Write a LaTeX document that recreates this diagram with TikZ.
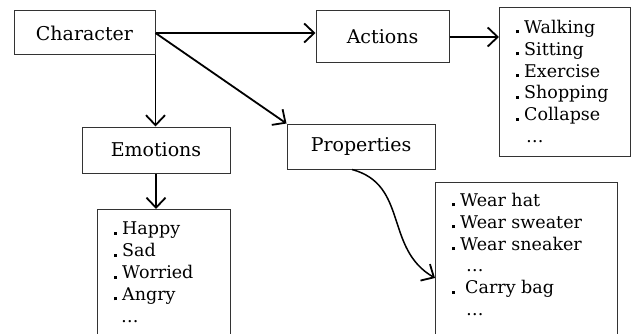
\documentclass[tikz,border=0pt]{standalone}
\usepackage{fontspec}
\setmainfont{DejaVu Serif}
\usetikzlibrary{arrows.meta}
\newcommand\lbul{\rule{3pt}{3pt}\hspace{5pt}}
\tikzset{
  box/.style={draw=black!80, line width=1pt, rectangle, inner sep=0pt, font=\fontsize{19}{22}\selectfont},
  listtext/.style={anchor=north west, inner sep=0pt, align=left, font=\fontsize{17.5}{21.8}\selectfont},
  conn/.style={draw=black, line width=1.8pt, -{Straight Barb[length=10pt,width=19pt,line width=1.8pt]}}
}
\begin{document}
\begin{tikzpicture}[x=1pt,y=-1pt]
\useasboundingbox (0,0) rectangle (631,334);
\clip (0,0) rectangle (631,334);
\fill[white] (0,0) rectangle (631,334);
% heading boxes
\node[box, minimum width=141pt, minimum height=44pt] (char) at (84.5,33) {Character};
\node[box, minimum width=133pt, minimum height=52pt] (act) at (382.5,37) {Actions};
\node[box, minimum width=148pt, minimum height=46pt] (emo) at (156,150) {Emotions};
\node[box, minimum width=148pt, minimum height=45pt] (prop) at (361,146.5) {Properties};
% list boxes
\node[box, minimum width=131pt, minimum height=149pt, anchor=north west] (alist) at (499,7) {};
\node[box, minimum width=133pt, minimum height=140pt, anchor=north west] (elist) at (97,209) {};
\node[box, minimum width=182pt, minimum height=160pt, anchor=north west] (plist) at (435,182) {};
% list texts
\node[listtext] (atext) at (516,20) {\lbul Walking\\ \lbul Sitting\\ \lbul Exercise\\ \lbul Shopping\\ \lbul Collapse\\ \hspace{10pt}\dots};
\node[listtext] (etext) at (114,222) {\lbul Happy\\ \lbul Sad\\ \lbul Worried\\ \lbul Angry\\ \hspace{7pt}\dots};
\node[listtext] (ptext) at (452,193) {\lbul Wear hat\\ \lbul Wear sweater\\ \lbul Wear sneaker\\ \hspace{14pt}\dots\\ \lbul\hspace{5pt}Carry bag\\ \hspace{14pt}\dots};
\coordinate (ptgt) at (435,278);
% connectors
\draw[conn] (char.east) -- (char.east -| act.west);
\draw[conn] (char.east) -- (prop.north west);
\draw[conn] (char.south east) -- (char.south east |- emo.north);
\draw[conn] (act.east) -- (act.east -| alist.west);
\draw[conn] (emo.south) -- (emo.south |- elist.north);
\draw[conn, line width=1.5pt] ([xshift=-9pt]prop.south) to[out=-15, in=150, looseness=1.1] (ptgt);
\end{tikzpicture}
\end{document}
